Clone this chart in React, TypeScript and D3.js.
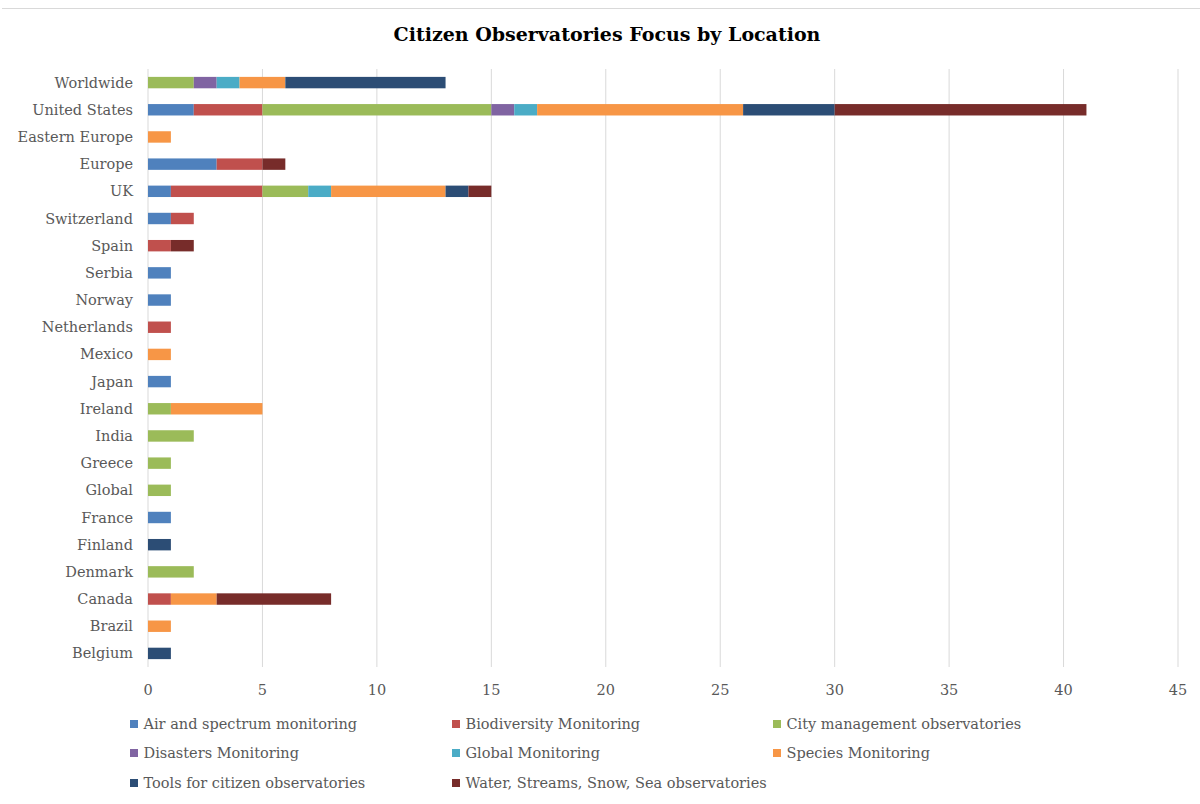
import React from "react";
import * as d3 from "d3";

const locations = [
  "Worldwide", "United States", "Eastern Europe", "Europe", "UK", "Switzerland", "Spain",
  "Serbia", "Norway", "Netherlands", "Mexico", "Japan", "Ireland", "India", "Greece",
  "Global", "France", "Finland", "Denmark", "Canada", "Brazil", "Belgium",
];

const seriesNames = [
  "Air and spectrum monitoring",
  "Biodiversity Monitoring",
  "City management observatories",
  "Disasters Monitoring",
  "Global Monitoring",
  "Species Monitoring",
  "Tools for citizen observatories",
  "Water, Streams, Snow, Sea observatories",
];

const seriesColors = ["#4F81BD", "#C0504D", "#9BBB59", "#8064A2", "#4BACC6", "#F79646", "#2C4D75", "#772C2A"];

// values per location, in order of locations
const airSpectrum = [0, 2, 0, 3, 1, 1, 0, 1, 1, 0, 0, 1, 0, 0, 0, 0, 1, 0, 0, 0, 0, 0];
const biodiversity = [0, 3, 0, 2, 4, 1, 1, 0, 0, 1, 0, 0, 0, 0, 0, 0, 0, 0, 0, 1, 0, 0];
const cityManagement = [2, 10, 0, 0, 2, 0, 0, 0, 0, 0, 0, 0, 1, 2, 1, 1, 0, 0, 2, 0, 0, 0];
const disasters = [1, 1, 0, 0, 0, 0, 0, 0, 0, 0, 0, 0, 0, 0, 0, 0, 0, 0, 0, 0, 0, 0];
const globalMonitoring = [1, 1, 0, 0, 1, 0, 0, 0, 0, 0, 0, 0, 0, 0, 0, 0, 0, 0, 0, 0, 0, 0];
const species = [2, 9, 1, 0, 5, 0, 0, 0, 0, 0, 1, 0, 4, 0, 0, 0, 0, 0, 0, 2, 1, 0];
const tools = [7, 4, 0, 0, 1, 0, 0, 0, 0, 0, 0, 0, 0, 0, 0, 0, 0, 1, 0, 0, 0, 1];
const water = [0, 11, 0, 1, 1, 0, 1, 0, 0, 0, 0, 0, 0, 0, 0, 0, 0, 0, 0, 5, 0, 0];

const seriesValues = [airSpectrum, biodiversity, cityManagement, disasters, globalMonitoring, species, tools, water];

const xTicks = [0, 5, 10, 15, 20, 25, 30, 35, 40, 45];

const W = 1200;
const H = 804;
const FONT = "'DejaVu Serif', Georgia, serif";
const TEXT = "#595959";

export default function App() {
  const left = 148;
  const right = 1178;
  const top = 69;
  const bottom = 667;

  const x = d3.scaleLinear().domain([0, 45]).range([left, right]);
  const y = d3.scaleBand().domain(locations).range([top, bottom]).paddingInner(0.58).paddingOuter(0.29);

  const rows = locations.map((loc, i) => {
    const obj: any = { loc };
    seriesNames.forEach((s, k) => (obj[s] = seriesValues[k][i]));
    return obj;
  });
  const stacked = d3.stack().keys(seriesNames)(rows);

  const legendCols = [130, 452, 773];
  const legendRows = [724, 753, 783];

  return (
    <svg width={W} height={H} style={{ position: "absolute", left: 0, top: 0 }}>
      <rect x={0} y={0} width={W} height={H} fill="#fff" />
      <line x1={2} x2={W} y1={8.5} y2={8.5} stroke="#d9d9d9" strokeWidth={1} />
      <text x={607} y={41} textAnchor="middle" fontFamily={FONT} fontWeight="bold" fontSize={19} fill="#000">
        Citizen Observatories Focus by Location
      </text>
      {xTicks.map((t) => (
        <g key={t}>
          <line x1={x(t)} x2={x(t)} y1={top} y2={bottom} stroke="#d9d9d9" strokeWidth={1} />
          <text x={x(t)} y={695} textAnchor="middle" fontFamily={FONT} fontSize={14.5} fill={TEXT}>
            {t}
          </text>
        </g>
      ))}
      {stacked.map((layer, k) => (
        <g key={seriesNames[k]} fill={seriesColors[k]}>
          {layer.map((d, i) =>
            d[1] - d[0] > 0 ? (
              <rect
                key={i}
                x={x(d[0])}
                y={y(locations[i])!}
                width={x(d[1]) - x(d[0])}
                height={y.bandwidth()}
              />
            ) : null
          )}
        </g>
      ))}
      {locations.map((loc) => (
        <text
          key={loc}
          x={133}
          y={y(loc)! + y.bandwidth() / 2 + 5}
          textAnchor="end"
          fontFamily={FONT}
          fontSize={14.5}
          fill={TEXT}
        >
          {loc}
        </text>
      ))}
      {seriesNames.map((s, k) => {
        const cx = legendCols[k % 3];
        const cy = legendRows[Math.floor(k / 3)];
        return (
          <g key={s}>
            <rect x={cx} y={cy - 4} width={8} height={8} fill={seriesColors[k]} />
            <text x={cx + 13.5} y={cy + 5} fontFamily={FONT} fontSize={14.5} fill={TEXT}>
              {s}
            </text>
          </g>
        );
      })}
    </svg>
  );
}
